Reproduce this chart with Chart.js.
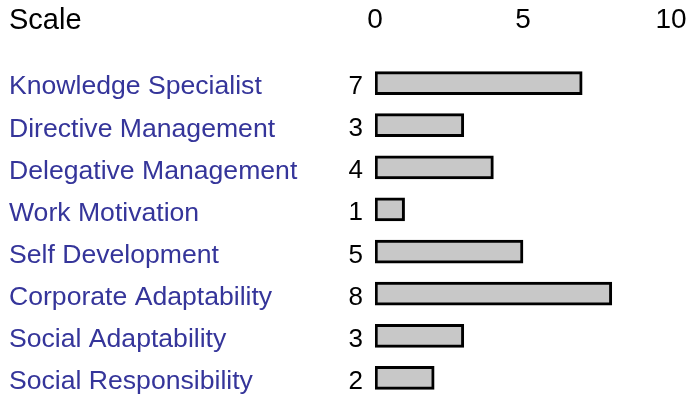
<!DOCTYPE html>
<html>
<head>
<meta charset="utf-8">
<script src="https://cdn.jsdelivr.net/npm/chart.js@4/dist/chart.umd.min.js"></script>
<style>
  html, body { margin: 0; padding: 0; background: #fff; }
  #wrap { width: 689px; height: 400px; }
</style>
</head>
<body>
<div id="wrap"><canvas id="scaleChart"></canvas></div>
<script>
const categories = [
    'Knowledge Specialist',
    'Directive Management',
    'Delegative Management',
    'Work Motivation',
    'Self Development',
    'Corporate Adaptability',
    'Social Adaptability',
    'Social Responsibility'
];
const scores = [7, 3, 4, 1, 5, 8, 3, 2];
const scaleTicks = [0, 5, 10];
const scaleTitle = 'Scale';

const FONT = '"Liberation Sans", Arial, sans-serif';

// draws "Scale" and the numbers beside each bar
const sideText = {
    id: 'sideText',
    afterDraw(chart) {
        const ctx = chart.ctx;
        const xScale = chart.scales.x;
        const yScale = chart.scales.y;
        ctx.save();
        ctx.fillStyle = '#000';
        ctx.font = '29px ' + FONT;
        ctx.textAlign = 'left';
        ctx.textBaseline = 'alphabetic';
        ctx.fillText(scaleTitle, 9, 29);

        ctx.font = '26px ' + FONT;
        ctx.textAlign = 'right';
        scores.forEach((v, i) => {
            ctx.fillText(String(v), xScale.getPixelForValue(0) - 12, yScale.getPixelForValue(i) + 11);
        });
        ctx.restore();
    }
};

const ctx = document.getElementById('scaleChart').getContext('2d');
const chart = new Chart(ctx, {
    type: 'bar',
    data: {
        labels: categories,
        datasets: [{
            data: scores,
            backgroundColor: '#c8c8c8',
            borderColor: '#000',
            borderWidth: 3,
            borderSkipped: false,
            barThickness: 23
        }]
    },
    options: {
        indexAxis: 'y',
        responsive: true,
        maintainAspectRatio: false,
        animation: false,
        layout: { padding: { left: 9, right: 18, top: 0, bottom: 1 } },
        plugins: {
            legend: { display: false },
            tooltip: { enabled: false }
        },
        scales: {
            x: {
                position: 'top',
                min: 0,
                max: 10,
                afterBuildTicks: (axis) => {
                    axis.ticks = scaleTicks.map(v => ({ value: v }));
                },
                afterFit: (axis) => {
                    axis.height = 62;
                    axis.paddingLeft = 0;
                    axis.paddingRight = 0;
                },
                grid: { display: false, drawTicks: false },
                border: { display: false },
                ticks: {
                    color: '#000',
                    padding: 25,
                    maxRotation: 0,
                    font: { family: FONT, size: 28 }
                }
            },
            y: {
                afterFit: (axis) => {
                    axis.width = 366;
                    axis.paddingTop = 0;
                    axis.paddingBottom = 0;
                },
                grid: { display: false, drawTicks: false },
                border: { display: false },
                ticks: {
                    color: '#35359a',
                    crossAlign: 'far',
                    labelOffset: 4,
                    font: { family: FONT, size: 26.6 }
                }
            }
        }
    },
    plugins: [sideText]
});
</script>
</body>
</html>
